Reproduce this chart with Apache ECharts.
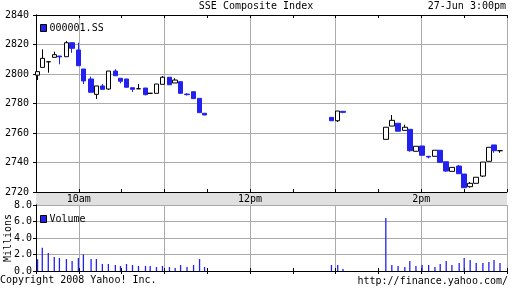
<!DOCTYPE html>
<html><head><meta charset="utf-8">
<script src="https://cdn.jsdelivr.net/npm/echarts@6/dist/echarts.min.js"></script>
<style>html,body{margin:0;padding:0;background:#fff}#c{width:512px;height:288px}</style>
</head><body><div id="c"></div>
<script>
// minutes after 9:30 for each bar
const minutes = [1.1,4.4,8.6,12.8,16.4,21.3,25.3,29.7,33.2,38.6,42.3,46.5,50.7,55.6,59.2,63.4,67.6,71.8,76.7,80,84.4,88.6,93.5,97.5,101.3,105.8,110.4,114.6,118.1,
  207,211.4,215.1,245.1,249.3,253.7,258.4,261.9,266.2,270.5,275.1,279.5,283.2,287.4,291.4,296.5,300,304.2,308.4,313.1,317.3,320.9,325.1];
const openV = [2799.2,2804.5,2808.3,2811.3,2812.2,2811.7,2821.2,2816.3,2803.4,2796.6,2786.2,2791.9,2789.8,2802,2797.1,2796.6,2790.7,2790,2790.5,2786.9,2786.9,2793,2797.8,2793.9,2794.8,2786.4,2788,2783.5,2773.4,
  2770.6,2768.3,2774.7,2755.7,2764.7,2766.6,2761.8,2762.5,2747.6,2751.2,2744.2,2744.2,2748.3,2740.5,2734,2737.6,2732.2,2723.6,2725.9,2730.8,2740.8,2751.9,2748];
const closeV = [2801.6,2810.6,2808.3,2813.1,2811.6,2821.2,2817.4,2805.6,2795.3,2787.6,2791.9,2789.6,2802,2798.8,2795.1,2791,2789.6,2790,2786,2786.9,2793.2,2797.8,2792.7,2795.9,2786.9,2786,2783.3,2773.8,2772.2,
  2768.3,2774.9,2774,2763.9,2768.6,2761.2,2763.9,2748,2751,2744.9,2743.7,2748.3,2740.1,2734.2,2736.7,2732.4,2722.9,2725.9,2730,2740.3,2750.3,2748,2748];
const lowV = [2795.9,2804.5,2800.9,2811.3,2806.6,2811.7,2814.4,2805.6,2793.2,2787.6,2783.1,2789.6,2789.2,2798.8,2793.7,2791,2787.8,2790,2785.5,2786.4,2786.9,2793,2792.7,2793.9,2786.9,2785.4,2783.3,2773.8,2772.2,
  2768.3,2767.5,2773.4,2755.7,2764.7,2761.2,2761.8,2747.3,2747.6,2744.9,2742.8,2744.2,2740.1,2733.6,2734,2732.4,2722.9,2722.9,2725.9,2730.2,2740.8,2746.6,2746.6];
const highV = [2801.6,2816.7,2808.3,2815.1,2812.2,2822.4,2821.2,2821.2,2803.4,2798.2,2791.9,2793.2,2802,2803.2,2797.1,2796.6,2790.7,2793.2,2790.5,2787,2793.2,2798.6,2797.8,2797.1,2794.8,2787,2788,2783.5,2773.4,
  2770.6,2774.9,2774.7,2763.9,2772.2,2766.6,2765.6,2762.5,2751,2751.2,2744.2,2748.3,2748.3,2740.5,2736.7,2738.3,2732.2,2726.8,2730,2740.3,2750.3,2751.9,2748];
// volume in millions
const volume = [1.42,2.82,2.18,1.70,1.58,1.45,1.21,1.58,2.02,1.45,1.45,0.85,0.85,0.73,0.61,0.85,0.73,0.61,0.61,0.61,0.48,0.61,0.48,0.36,0.73,0.48,0.73,1.45,0.48,
  0.73,0.73,0.24,6.42,0.73,0.61,0.48,1.21,0.61,0.73,0.73,0.48,0.85,1.21,0.73,0.97,1.58,1.33,0.97,0.97,1.09,1.33,0.97];
const timeLabels = {30:'10am',150:'12pm',270:'2pm'};
const priceTicks = {min:2720,max:2840,step:20};
const volTicks = {min:0,max:8,step:2};

const BLUE = '#2222f0';
const FONT = 'DejaVu Sans Mono';
const GRID = '#aaaaaa';
const candleData = minutes.map((m,i)=>[m, openV[i], closeV[i], lowV[i], highV[i]]);
const volData = minutes.map((m,i)=>[m, volume[i]]);
const txt = {fontFamily: FONT, fontSize: 10, color: '#000'};

function xAx(grid, pos, opts){
  return Object.assign({
    type:'value', gridIndex:grid, position:pos, min:0, max:330, interval:30,
    axisLine:{show:true, lineStyle:{color:'#000', width:1}},
    axisTick:{show:true, inside:true, length:3, lineStyle:{color:'#000'}},
    axisLabel:{show:false}, splitLine:{show:false}
  }, opts||{});
}
const vSplit = {show:true, lineStyle:{color:['rgba(0,0,0,0)', GRID], width:1}};

const chart = echarts.init(document.getElementById('c'), null, {renderer:'canvas'});
chart.setOption({
  animation:false,
  backgroundColor:'#fff',
  textStyle:{fontFamily:FONT},
  title:[
    {text:'SSE Composite Index', left:'center', top:1, padding:0, textStyle:Object.assign({fontWeight:'normal'},txt)},
    {text:'27-Jun 3:00pm', right:6, top:1, padding:0, textStyle:Object.assign({fontWeight:'normal'},txt)},
    {text:'Copyright 2008 Yahoo! Inc.', left:0, top:275, padding:0, textStyle:Object.assign({fontWeight:'normal'},txt)},
    {text:'http://finance.yahoo.com/', right:4, top:276, padding:0, textStyle:Object.assign({fontWeight:'normal'},txt)}
  ],
  legend:[
    {data:[{name:'000001.SS', itemStyle:{color:BLUE, borderColor:'#000', borderWidth:1}}], left:40, top:23, padding:0, itemWidth:6, itemHeight:7, itemGap:2, icon:'rect', textStyle:Object.assign({padding:[0,0,0,-2]},txt), selectedMode:false},
    {data:[{name:'Volume', itemStyle:{color:BLUE, borderColor:'#000', borderWidth:1}}], left:40, top:214, padding:0, itemWidth:6, itemHeight:7, itemGap:2, icon:'rect', textStyle:Object.assign({padding:[0,0,0,-2]},txt), selectedMode:false}
  ],
  graphic:[
    {type:'rect', shape:{x:36, y:192, width:471, height:13}, style:{fill:'#e0e0e0', stroke:null}, z:-10, silent:true}
  ],
  grid:[
    {left:36, top:15, width:471, height:177, outerBoundsMode:'none', containLabel:false},
    {left:36, top:205, width:471, height:66, outerBoundsMode:'none', containLabel:false}
  ],
  xAxis:[
    xAx(0,'bottom',{splitLine:vSplit, axisLabel:{show:true, margin:2, formatter:v=>timeLabels[v]||'', fontFamily:FONT, fontSize:10, color:'#000'}}),
    xAx(0,'top'),
    xAx(1,'bottom',{splitLine:vSplit}),
    xAx(1,'top')
  ],
  yAxis:[
    {type:'value', gridIndex:0, position:'left', min:priceTicks.min, max:priceTicks.max, interval:priceTicks.step,
     axisLine:{show:true, lineStyle:{color:'#000'}}, axisTick:{show:true, length:3, lineStyle:{color:'#000'}},
     axisLabel:{margin:7, fontFamily:FONT, fontSize:10, color:'#000', formatter:v=>String(v)},
     splitLine:{show:true, lineStyle:{color:GRID}}},
    {type:'value', gridIndex:0, position:'right', min:priceTicks.min, max:priceTicks.max, interval:priceTicks.step,
     axisLine:{show:true, lineStyle:{color:'#000'}}, axisTick:{show:true, inside:true, length:3, lineStyle:{color:'#000'}},
     axisLabel:{show:false}, splitLine:{show:false}},
    {type:'value', gridIndex:1, position:'left', min:volTicks.min, max:volTicks.max, interval:volTicks.step,
     name:'Millions', nameLocation:'middle', nameGap:23, nameRotate:90, nameMoveOverlap:false, nameTextStyle:txt,
     axisLine:{show:true, lineStyle:{color:'#000'}}, axisTick:{show:false},
     axisLabel:{margin:4, fontFamily:FONT, fontSize:10, color:'#000', formatter:v=>v.toFixed(1)},
     splitLine:{show:true, lineStyle:{color:GRID}}},
    {type:'value', gridIndex:1, position:'right', min:volTicks.min, max:volTicks.max, interval:volTicks.step,
     axisLine:{show:true, lineStyle:{color:'#000'}}, axisTick:{show:true, inside:true, length:3, lineStyle:{color:'#000'}},
     axisLabel:{show:false}, splitLine:{show:false}}
  ],
  series:[
    {name:'000001.SS', type:'candlestick', xAxisIndex:0, yAxisIndex:0, data:candleData, encode:{x:0, y:[1,2,3,4]},
     barWidth:5, silent:true,
     itemStyle:{color:'#fff', color0:BLUE, borderColor:'#000', borderColor0:BLUE, borderColorDoji:'#000', borderWidth:1}},
    {name:'Volume', type:'bar', xAxisIndex:2, yAxisIndex:2, data:volData, barWidth:1.3, silent:true,
     itemStyle:{color:BLUE}}
  ]
});
</script></body></html>
